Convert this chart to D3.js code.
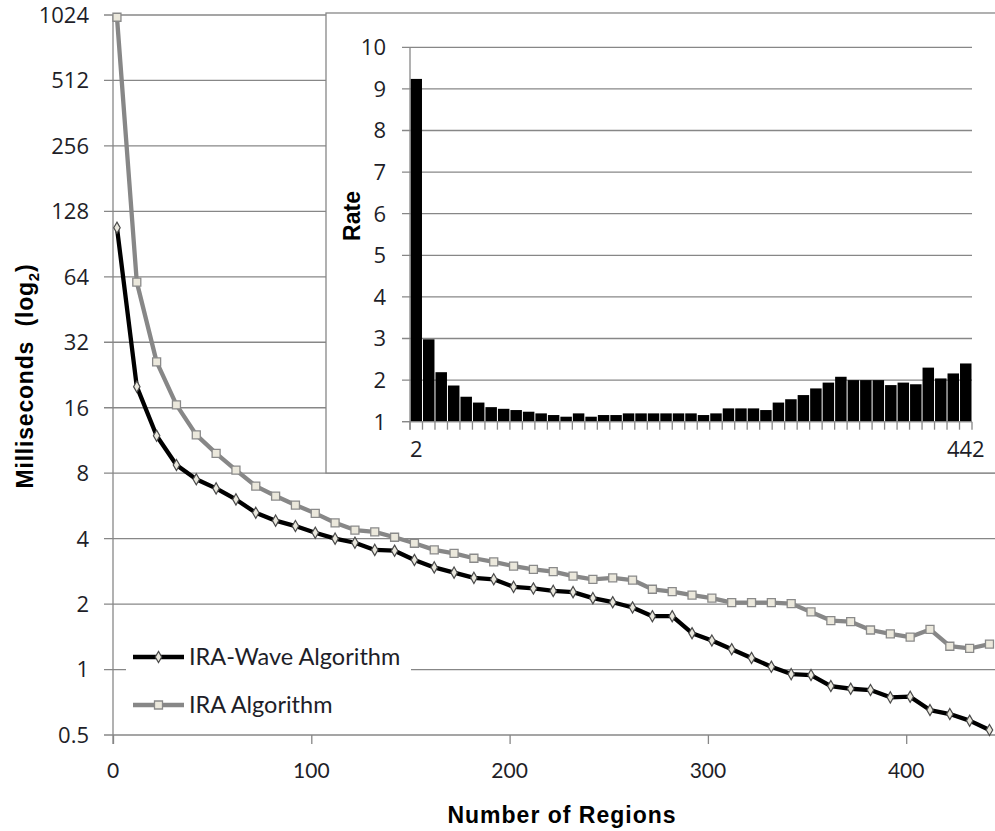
<!DOCTYPE html>
<meta charset="utf-8">
<style>

body {
  margin: 0;
  background: #fff;
}

svg {
  font-family: Lato, "Open Sans", sans-serif;
  display: block;
}

.grid line {
  stroke: #878787;
  stroke-width: 1.3;
}

.axis path,
.axis line {
  stroke: #878787;
  stroke-width: 1.3;
  fill: none;
}

.tick-label {
  font-size: 21px;
  fill: #1e1e28;
}

.tick-label.y,
.tick-label.rate {
  font-family: "Open Sans", sans-serif;
  font-size: 22px;
}

.legend-label {
  font-size: 23.5px;
}

.title {
  font-family: "Liberation Sans", Arial, sans-serif;
  font-weight: bold;
  font-size: 23px;
  fill: #000;
  white-space: pre;
}

</style>
<body>
<script src="https://cdnjs.cloudflare.com/ajax/libs/d3/7.8.5/d3.min.js"></script>
<script>

// number of regions (x values shared by both series and the inset bars)
var regions = [2, 12, 22, 32, 42, 52, 62, 72, 82, 92, 102, 112, 122, 132, 142,
  152, 162, 172, 182, 192, 202, 212, 222, 232, 242, 252, 262, 272, 282, 292,
  302, 312, 322, 332, 342, 352, 362, 372, 382, 392, 402, 412, 422, 432, 442];

// milliseconds
var iraWave = [107.6, 20.0, 11.9, 8.72, 7.50, 6.81, 6.06, 5.26, 4.84, 4.57,
  4.26, 4.00, 3.83, 3.55, 3.52, 3.19, 2.95, 2.79, 2.64, 2.60,
  2.40, 2.36, 2.30, 2.27, 2.13, 2.04, 1.93, 1.76, 1.76, 1.47,
  1.36, 1.24, 1.13, 1.03, 0.953, 0.943, 0.84, 0.816, 0.805, 0.745,
  0.75, 0.651, 0.624, 0.582, 0.527];

var ira = [1000, 60.5, 26.0, 16.5, 12.0, 9.87, 8.27, 6.98, 6.28, 5.71,
  5.23, 4.73, 4.38, 4.30, 4.06, 3.81, 3.55, 3.42, 3.25, 3.13,
  2.99, 2.89, 2.82, 2.69, 2.60, 2.64, 2.58, 2.34, 2.28, 2.20,
  2.13, 2.03, 2.03, 2.03, 2.01, 1.84, 1.68, 1.66, 1.52, 1.46,
  1.41, 1.53, 1.28, 1.25, 1.31];

// inset: speed-up rate per region count
var rate = [9.24, 2.98, 2.19, 1.87, 1.60, 1.46, 1.35, 1.31, 1.28, 1.24,
  1.20, 1.16, 1.12, 1.20, 1.12, 1.16, 1.16, 1.20, 1.20, 1.20,
  1.20, 1.20, 1.20, 1.16, 1.20, 1.32, 1.32, 1.32, 1.28, 1.46,
  1.54, 1.64, 1.80, 1.94, 2.08, 2.00, 2.00, 2.00, 1.88, 1.94,
  1.90, 2.30, 2.04, 2.16, 2.40];

var yTicks = [0.5, 1, 2, 4, 8, 16, 32, 64, 128, 256, 512, 1024];
var xTicks = [0, 100, 200, 300, 400];
var rateTicks = [1, 2, 3, 4, 5, 6, 7, 8, 9, 10];
var rateLabels = [2, 442];

var width = 995,
    height = 831;

var svg = d3.select("body").append("svg")
    .attr("width", width)
    .attr("height", height);

var x = d3.scaleLinear()
    .domain([0, 450])
    .range([113, 113 + 450 * 1.983]);

var y = d3.scaleLog()
    .base(2)
    .domain([0.5, 1024])
    .range([735, 15]);

// horizontal gridlines, starting left of the axis like excel's tick marks
svg.append("g")
    .attr("class", "grid")
  .selectAll("line")
    .data(yTicks)
  .enter().append("line")
    .attr("x1", 104)
    .attr("x2", width)
    .attr("y1", function(d) { return y(d); })
    .attr("y2", function(d) { return y(d); });

svg.append("g")
  .selectAll("text")
    .data(yTicks)
  .enter().append("text")
    .attr("class", "tick-label y")
    .attr("x", 89)
    .attr("y", function(d) { return y(d); })
    .attr("dy", "0.36em")
    .attr("text-anchor", "end")
    .text(function(d) { return d; });

// x axis
var xAxis = svg.append("g")
    .attr("class", "axis")
    .attr("transform", "translate(0," + y(0.5) + ")")
    .call(d3.axisBottom(x).tickValues(xTicks).tickSize(9).tickSizeOuter(0).tickFormat(""));
xAxis.select(".domain").remove();

svg.append("line")
    .style("stroke", "#878787")
    .style("stroke-width", 1.3)
    .attr("x1", x(0)).attr("x2", x(0))
    .attr("y1", y(1024)).attr("y2", y(0.5) + 9);

svg.append("g")
  .selectAll("text")
    .data(xTicks)
  .enter().append("text")
    .attr("class", "tick-label")
    .attr("x", function(d) { return x(d); })
    .attr("y", 778)
    .attr("text-anchor", "middle")
    .text(function(d) { return d; });

svg.append("text")
    .attr("class", "title")
    .attr("x", 562)
    .attr("y", 823)
    .attr("text-anchor", "middle")
    .style("letter-spacing", "1px")
    .text("Number of Regions");

var yTitle = svg.append("text")
    .attr("class", "title")
    .attr("transform", "translate(33,376) rotate(-90)")
    .attr("text-anchor", "middle")
    .style("letter-spacing", "0.8px");
yTitle.append("tspan").text("Milliseconds  (log");
yTitle.append("tspan").attr("dy", 6).style("font-size", "15px").text("2");
yTitle.append("tspan").attr("dy", -6).text(")");

// the two series
var series = [
  {name: "IRA Algorithm", values: ira, stroke: "#878787", marker: "square"},
  {name: "IRA-Wave Algorithm", values: iraWave, stroke: "#000", marker: "diamond"}
];

var line = d3.line()
    .x(function(d, i) { return x(regions[i]); })
    .y(function(d) { return y(d); });

var square = d3.symbol().type(d3.symbolSquare).size(64);
var diamond = d3.symbol().type(d3.symbolDiamond).size(36);

function drawMarker(sel, s) {
  if (s.marker === "square") {
    sel.attr("d", square())
        .style("fill", "#ebe8dc")
        .style("stroke", "#8a8a8a")
        .style("stroke-width", 1.3);
  } else {
    sel.attr("d", diamond())
        .style("fill", "#e9e7dd")
        .style("stroke", "#4a4a4a")
        .style("stroke-width", 1.2);
  }
}

series.forEach(function(s) {
  svg.append("path")
      .datum(s.values)
      .attr("d", line)
      .style("fill", "none")
      .style("stroke", s.stroke)
      .style("stroke-width", 4.3)
      .style("stroke-linejoin", "round");

  svg.append("g")
    .selectAll("path")
      .data(s.values)
    .enter().append("path")
      .attr("transform", function(d, i) { return "translate(" + x(regions[i]) + "," + y(d) + ")"; })
      .each(function() { drawMarker(d3.select(this), s); });
});

// legend, white box over the gridline at 1
var legend = svg.append("g");
legend.append("rect")
    .attr("x", 126)
    .attr("y", 632)
    .attr("width", 285)
    .attr("height", 90)
    .style("fill", "#fff");

[series[1], series[0]].forEach(function(s, i) {
  var ly = 657 + i * 48;
  legend.append("line")
      .attr("x1", 133).attr("x2", 184)
      .attr("y1", ly).attr("y2", ly)
      .style("stroke", s.stroke)
      .style("stroke-width", 4.3);
  legend.append("path")
      .attr("transform", "translate(158.5," + ly + ")")
      .call(drawMarker, s);
  legend.append("text")
      .attr("class", "legend-label")
      .attr("x", 189)
      .attr("y", ly)
      .attr("dy", "0.36em")
      .style("fill", "#1e1e28")
      .text(s.name);
});

// inset chart
var inset = svg.append("g");

inset.append("rect")
    .attr("x", 326)
    .attr("y", 13)
    .attr("width", 700)
    .attr("height", 460)
    .style("fill", "#fff")
    .style("stroke", "#878787")
    .style("stroke-width", 1.3);

var bx = d3.scaleBand()
    .domain(regions)
    .range([410, 972])
    .padding(0);

var by = d3.scaleLinear()
    .domain([1, 10])
    .range([421.7, 47.3]);

inset.append("g")
    .attr("class", "grid")
  .selectAll("line")
    .data(rateTicks)
  .enter().append("line")
    .attr("x1", 402)
    .attr("x2", 972)
    .attr("y1", function(d) { return by(d); })
    .attr("y2", function(d) { return by(d); });

inset.append("g")
  .selectAll("text")
    .data(rateTicks)
  .enter().append("text")
    .attr("class", "tick-label rate")
    .attr("x", 386)
    .attr("y", function(d) { return by(d); })
    .attr("dy", "0.36em")
    .attr("text-anchor", "end")
    .text(function(d) { return d; });

inset.append("g")
  .selectAll("rect")
    .data(rate)
  .enter().append("rect")
    .attr("x", function(d, i) { return bx(regions[i]) + 0.5; })
    .attr("y", function(d) { return by(d); })
    .attr("width", bx.bandwidth() - 1)
    .attr("height", function(d) { return by(1) - by(d); })
    .style("fill", "#000");

// category boundary ticks under the inset
var edges = regions.map(function(r) { return bx(r); }).concat([972]);
inset.append("g")
    .attr("class", "axis")
  .selectAll("line")
    .data(edges)
  .enter().append("line")
    .attr("x1", function(d) { return d; })
    .attr("x2", function(d) { return d; })
    .attr("y1", by(1))
    .attr("y2", by(1) + 8);

inset.append("line")
    .attr("x1", 410).attr("x2", 410)
    .attr("y1", by(10)).attr("y2", by(1) + 8)
    .style("stroke", "#878787")
    .style("stroke-width", 1.3);

inset.append("line")
    .attr("x1", 402).attr("x2", 972)
    .attr("y1", by(1)).attr("y2", by(1))
    .style("stroke", "#878787")
    .style("stroke-width", 1.3);

inset.append("g")
  .selectAll("text")
    .data(rateLabels)
  .enter().append("text")
    .attr("class", "tick-label rate")
    .attr("x", function(d) { return bx(d) + bx.bandwidth() / 2; })
    .attr("y", 457)
    .attr("text-anchor", "middle")
    .text(function(d) { return d; });

inset.append("text")
    .attr("class", "title")
    .attr("transform", "translate(360,216) rotate(-90)")
    .attr("text-anchor", "middle")
    .text("Rate");

</script>
